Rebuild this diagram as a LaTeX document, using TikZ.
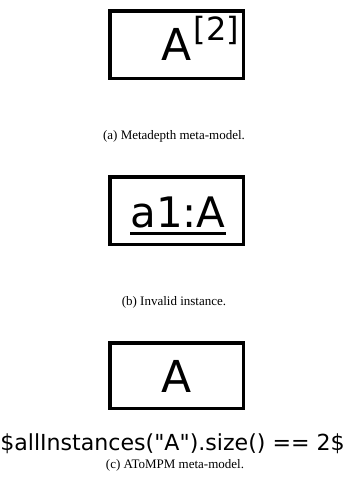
\documentclass[tikz,border=0pt]{standalone}
\usepackage{fontspec}
\setmainfont{Liberation Serif}
\newfontfamily\dejavu{DejaVu Sans}
\usepackage{tikz}
\usetikzlibrary{positioning}

\newcommand{\ulname}[1]{\setbox0\hbox{#1}\rlap{\rule[-7.5pt]{\wd0}{3pt}}\box0}

\begin{document}
\begin{tikzpicture}[
        x=1pt, y=-1pt,
        classbox/.style={draw, rectangle, line width=3.5pt, minimum width=133.5pt, minimum height=67.5pt, inner sep=0pt},
        classname/.style={inner sep=0pt, font=\dejavu\fontsize{44pt}{44pt}\selectfont},
        constraint/.style={inner sep=0pt, font=\dejavu\fontsize{22.1pt}{26pt}\selectfont},
        subcaption/.style={inner sep=0pt, font=\fontsize{13pt}{15pt}\selectfont}
    ]
        \useasboundingbox (0,0) rectangle (347,477);

        % Nodes
        \node[classbox] (mdBox) at (176.5,44.5) {};
        \node[classname, anchor=base east] (mdName) at (239.5,60) {A\kern2pt\raisebox{20pt}{\fontsize{32pt}{32pt}\selectfont[2]}};
        \node[subcaption, anchor=base] (mdCap) at (174,139) {(a) Metadepth meta-model.};

        \node[classbox] (instBox) at (176.5,210.5) {};
        \node[classname, anchor=base, font=\dejavu\fontsize{42pt}{42pt}\selectfont] (instName) at (178,227) {\ulname{a1:A}};
        \node[subcaption, anchor=base] (instCap) at (174,305) {(b) Invalid instance.};

        \node[classbox, minimum height=65.5pt] (amBox) at (176.5,375.5) {};
        \node[classname, anchor=base] (amName) at (177,392) {A};
        \node[constraint, anchor=base] (amRule) at (172.5,450) {\$allInstances("A").size() == 2\$};
        \node[subcaption, anchor=base] (amCap) at (175,468) {(c) AToMPM meta-model.};
    \end{tikzpicture}
\end{document}
